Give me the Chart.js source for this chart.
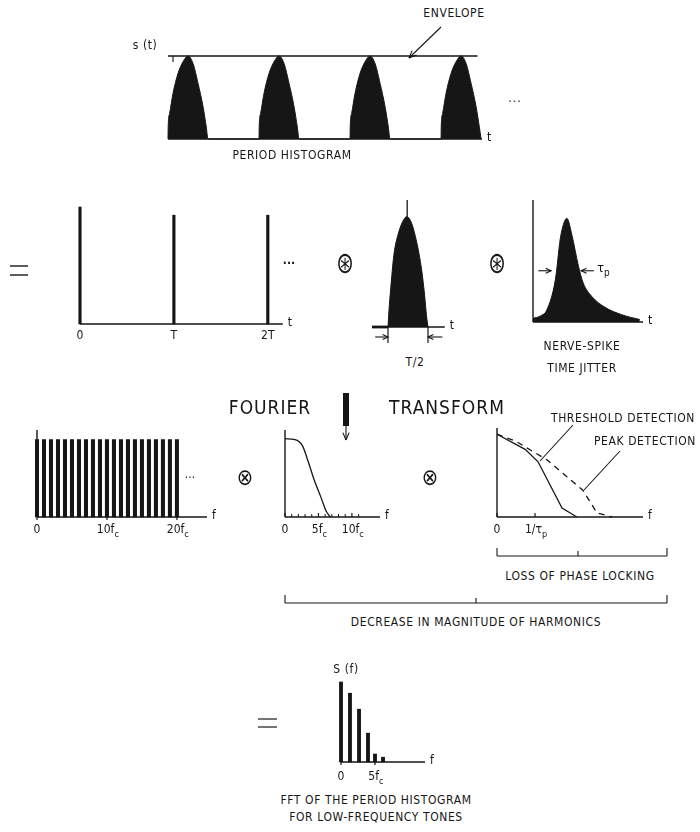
<!DOCTYPE html>
<html>
<head>
<meta charset="utf-8">
<script src="https://cdn.jsdelivr.net/npm/chart.js@4.4.1/dist/chart.umd.min.js"></script>
<style>
  html, body { margin: 0; padding: 0; background: #fff; }
  #page { position: relative; width: 700px; height: 832px; overflow: hidden;
          font-family: "DejaVu Sans Condensed", "Liberation Sans Narrow", "DejaVu Sans", sans-serif; color: #161616; }
  .lbl { position: absolute; white-space: nowrap; transform: translate(-50%, -50%); font-size: 12px; letter-spacing: 0.6px; line-height: 1; }
  .panel { position: absolute; }
  #ink { position: absolute; left: 0; top: 0; }
</style>
</head>
<body>
<div id="page"><svg id="ink" width="700" height="832"></svg></div>
<script>
// ---- data ----
// period histogram: one bump per period (t in periods, height relative to envelope)
const periodStarts = [0, 1, 2, 3];
const histShapeT = [0, 0.002, 0.018, 0.055, 0.11, 0.165, 0.22, 0.275, 0.33, 0.385, 0.42, 0.44];
const histShapeV = [0, 0.15, 0.31, 0.55, 0.79, 0.93, 1.0, 0.91, 0.67, 0.39, 0.15, 0];
const envelopeT = [0, 3.4];
const envelopeV = [1, 1];

// impulse train
const combT = [0, 1, 2];
const combV = [1.0, 0.93, 0.93];
const combTicks = [0, 1, 2];
const combTickLabels = ["0", "T", "2T"];

// single T/2 pulse
const pulseT = [0, 0.012, 0.033, 0.073, 0.135, 0.195, 0.235, 0.295, 0.358, 0.42, 0.46, 0.48, 0.5];
const pulseV = [0, 0.15, 0.34, 0.65, 0.86, 0.97, 1.0, 0.94, 0.77, 0.52, 0.27, 0.11, 0];
const pulseStemT = [0.24, 0.24];
const pulseStemV = [1.0, 1.15];

// nerve-spike time jitter
const jitterT = [0, 0.07, 0.13, 0.21, 0.255, 0.285, 0.317, 0.365, 0.425, 0.47, 0.55, 0.675, 0.83, 1.0];
const jitterV = [0.03, 0.05, 0.1, 0.35, 0.68, 0.8, 0.85, 0.71, 0.46, 0.32, 0.21, 0.12, 0.06, 0.02];

// line spectrum of the impulse train (f in units of fc)
const harmonics = [0, 1, 2, 3, 4, 5, 6, 7, 8, 9, 10, 11, 12, 13, 14, 15, 16, 17, 18, 19, 20];
const harmonicV = [0.89, 0.89, 0.89, 0.89, 0.89, 0.89, 0.89, 0.89, 0.89, 0.89, 0.89,
                   0.89, 0.89, 0.89, 0.89, 0.89, 0.89, 0.89, 0.89, 0.89, 0.89];
const lineTicks = [0, 10, 20];
const lineTickLabels = ["0", "10f_c", "20f_c"];

// spectrum of the pulse
const pulseSpecF = [0, 1.5, 2.6, 3.5, 4.3, 5.4, 6.2, 6.8];
const pulseSpecV = [0.9, 0.89, 0.82, 0.63, 0.44, 0.22, 0.06, 0];
const pulseSpecTicks = [0, 5, 10];
const pulseSpecTickLabels = ["0", "5f_c", "10f_c"];
const pulseSpecMinor = [1, 2, 3, 4, 6, 7, 8, 9, 11];

// loss of phase locking (f in units of 1/tau_p)
const thresholdF = [0, 0.74, 1.08, 1.71, 2.1];
const thresholdV = [0.93, 0.76, 0.62, 0.10, 0];
const peakF = [0, 0.5, 1.32, 2.26, 2.63, 3.03];
const peakV = [0.93, 0.85, 0.64, 0.30, 0.045, 0];
const lockTicks = [0, 1];
const lockTickLabels = ["0", "1/\u03c4_p"];

// FFT of the period histogram
const specF = [0, 1.32, 2.65, 3.97, 5.0, 6.18];
const specV = [1.0, 0.86, 0.66, 0.36, 0.1, 0.06];
const specTicks = [0, 5];
const specTickLabels = ["0", "5f_c"];

// ---- drawing ----
const INK = "#161616";
const FONT = '"DejaVu Sans Condensed", "Liberation Sans Narrow", "DejaVu Sans", sans-serif';
const PAD = 26;
const page = document.getElementById("page");

const pts = (xs, ys) => xs.map((x, i) => ({ x, y: ys[i] }));

function seg(ctx, x1, y1, x2, y2, w) {
  ctx.lineWidth = w;
  ctx.beginPath(); ctx.moveTo(x1, y1); ctx.lineTo(x2, y2); ctx.stroke();
}

function arrowHead(ctx, x1, y1, x2, y2, len) {
  const a = Math.atan2(y2 - y1, x2 - x1);
  ctx.beginPath();
  ctx.moveTo(x2 - len * Math.cos(a - 0.45), y2 - len * Math.sin(a - 0.45));
  ctx.lineTo(x2, y2);
  ctx.lineTo(x2 - len * Math.cos(a + 0.45), y2 - len * Math.sin(a + 0.45));
  ctx.stroke();
}

function subText(ctx, str, x, y, size, align) {
  const [main, sub] = str.split("_");
  ctx.font = size + "px " + FONT;
  const wm = ctx.measureText(main).width;
  ctx.font = Math.round(size * 0.75) + "px " + FONT;
  const ws = sub ? ctx.measureText(sub).width : 0;
  const x0 = align === "left" ? x : x - (sub ? wm / 2 + ws * 0.3 : wm / 2);
  ctx.textBaseline = "middle";
  ctx.textAlign = "left";
  ctx.font = size + "px " + FONT;
  ctx.fillText(main, x0, y);
  if (sub) {
    ctx.font = Math.round(size * 0.75) + "px " + FONT;
    ctx.fillText(sub, x0 + wm, y + size * 0.38);
  }
}

const axesPlugin = {
  id: "axes",
  afterDatasetsDraw(chart, args, o) {
    const { ctx } = chart;
    const xs = chart.scales.x, ys = chart.scales.y;
    const px = v => xs.getPixelForValue(v), py = v => ys.getPixelForValue(v);
    const y0 = py(0);
    ctx.save();
    ctx.strokeStyle = INK; ctx.fillStyle = INK;
    seg(ctx, px(o.xFrom), y0, px(o.xTo), y0, 1.3);
    if (o.thickTo != null) seg(ctx, px(o.xFrom), y0, px(o.thickTo), y0, 2.8);
    if (o.yTop != null) seg(ctx, px(0), y0, px(0), py(o.yTop), 1.4);
    (o.minor || []).forEach(v => seg(ctx, px(v), y0, px(v), y0 - 3, 1));
    (o.ticks || []).forEach(v => seg(ctx, px(v), y0 + (o.tickDown || 0), px(v), y0 - (o.tickUp || 0), 1.2));
    (o.labels || []).forEach((s, i) => subText(ctx, s, px(o.ticks[i]), y0 + (o.labelGap || 12), 12));
    if (o.name) subText(ctx, o.name, px(o.xTo) + 5, y0 - 1, 12, "left");
    (o.bars || []).forEach(b => seg(ctx, px(b.x), y0 + b.y1, px(b.x), y0 + b.y2, 1.2));
    (o.arrows || []).forEach(a => {
      const yy = a.dy != null ? y0 + a.dy : py(a.y);
      seg(ctx, px(a.x1), yy, px(a.x2), yy, 1.1);
      ctx.lineWidth = 1.1;
      arrowHead(ctx, px(a.x1), yy, px(a.x2), yy, 6);
    });
    (o.texts || []).forEach(t => subText(ctx, t.s, px(t.x), py(t.y), 13, "left"));
    ctx.restore();
  }
};

function panel(area, datasets, axes) {
  const div = document.createElement("div");
  div.className = "panel";
  div.style.left = (area.l - PAD) + "px";
  div.style.top = (area.t - PAD) + "px";
  const cv = document.createElement("canvas");
  cv.width = area.w + 2 * PAD;
  cv.height = area.h + 2 * PAD;
  cv.style.width = cv.width + "px";
  cv.style.height = cv.height + "px";
  div.appendChild(cv);
  page.appendChild(div);
  return new Chart(cv, {
    type: "line",
    data: { datasets },
    options: {
      responsive: false,
      animation: false,
      events: [],
      layout: { padding: PAD },
      plugins: { legend: { display: false }, tooltip: { enabled: false }, axes },
      scales: {
        x: { type: "linear", display: false, offset: false, min: area.x[0], max: area.x[1] },
        y: { type: "linear", display: false, min: area.y[0], max: area.y[1] }
      }
    },
    plugins: [axesPlugin]
  });
}

const lineDs = (data, extra) => Object.assign({
  type: "line", data, borderColor: INK, borderWidth: 1.3, pointRadius: 0, fill: false, tension: 0, clip: false
}, extra || {});
const fillDs = data => lineDs(data, { fill: "origin", backgroundColor: INK, borderWidth: 1, cubicInterpolationMode: "monotone" });
const barDs = (data, thick) => ({
  type: "bar", data, backgroundColor: INK, borderWidth: 0, barThickness: thick, clip: false
});

// chart areas on the page
const AREA = {
  hist:   { l: 168, t: 56,  w: 314, h: 83,  x: [0, 3.45],       y: [0, 1] },
  comb:   { l: 80,  t: 207, w: 200, h: 117, x: [0, 2.13],       y: [0, 1] },
  pulse:  { l: 372, t: 200, w: 73,  h: 127, x: [-0.2, 0.7125],  y: [0, 1.15] },
  jitter: { l: 533, t: 200, w: 110, h: 122, x: [0, 1.03],       y: [0, 1] },
  lines:  { l: 37,  t: 430, w: 170, h: 87,  x: [0, 24.3],       y: [0, 1] },
  env:    { l: 285, t: 430, w: 95,  h: 87,  x: [0, 14.2],       y: [0, 1] },
  lock:   { l: 497, t: 428, w: 146, h: 89,  x: [0, 3.84],       y: [0, 1] },
  spec:   { l: 341, t: 682, w: 84,  h: 80,  x: [0, 12.35],      y: [0, 1] }
};

const histData = periodStarts.flatMap(p => histShapeT.map((t, i) => ({ x: p + t, y: histShapeV[i] })));

panel(AREA.hist, [fillDs(histData), lineDs(pts(envelopeT, envelopeV))],
  { xFrom: 0, xTo: 3.45, name: "t" });

panel(AREA.comb, [barDs(pts(combT, combV), 2.5)],
  { xFrom: 0, xTo: 2.16, name: "t", ticks: combTicks, labels: combTickLabels, labelGap: 12 });

panel(AREA.pulse, [fillDs(pts(pulseT, pulseV)), lineDs(pts(pulseStemT, pulseStemV))],
  { xFrom: -0.2, xTo: 0.71, thickTo: 0, name: "t",
    bars: [{ x: 0, y1: 0, y2: 16 }, { x: 0.5, y1: 0, y2: 16 }],
    arrows: [{ x1: -0.16, x2: 0, dy: 10 }, { x1: 0.68, x2: 0.5, dy: 10 }] });

panel(AREA.jitter, [fillDs(pts(jitterT, jitterV))],
  { xFrom: 0, xTo: 1.03, yTop: 1, name: "t",
    arrows: [{ x1: 0.05, x2: 0.17, y: 0.42 }, { x1: 0.57, x2: 0.45, y: 0.42 }],
    texts: [{ x: 0.6, y: 0.44, s: "\u03c4_p" }] });

panel(AREA.lines, [barDs(pts(harmonics, harmonicV), 3.4)],
  { xFrom: 0, xTo: 24.3, yTop: 1, name: "f", ticks: lineTicks, labels: lineTickLabels, tickDown: 3, labelGap: 13 });

panel(AREA.env, [lineDs(pts(pulseSpecF, pulseSpecV), { tension: 0.35, cubicInterpolationMode: "monotone" })],
  { xFrom: 0, xTo: 14.2, yTop: 1, name: "f", ticks: pulseSpecTicks, labels: pulseSpecTickLabels,
    tickUp: 4, minor: pulseSpecMinor, labelGap: 13 });

panel(AREA.lock, [lineDs(pts(thresholdF, thresholdV)), lineDs(pts(peakF, peakV), { borderDash: [6, 5] })],
  { xFrom: 0, xTo: 3.84, yTop: 1, name: "f", ticks: lockTicks, labels: lockTickLabels, tickUp: 4, labelGap: 13 });

panel(AREA.spec, [barDs(pts(specF, specV), 3.2)],
  { xFrom: 0, xTo: 12.35, name: "f", ticks: specTicks, labels: specTickLabels, tickUp: 3, tickDown: 3, labelGap: 15 });

// ---- text ----
function lbl(text, cx, cy, size, extra) {
  const d = document.createElement("div");
  d.className = "lbl";
  d.textContent = text;
  d.style.left = cx + "px";
  d.style.top = cy + "px";
  if (size) d.style.fontSize = size + "px";
  if (extra) Object.assign(d.style, extra);
  page.appendChild(d);
}
const narrow = { transform: "translate(-50%, -50%) scaleX(0.7)", letterSpacing: "0px", fontFamily: '"DejaVu Sans", sans-serif' };
const roundish = { transform: "translate(-50%, -50%) scaleX(0.85)", letterSpacing: "0px", fontFamily: '"DejaVu Sans", sans-serif' };
lbl("ENVELOPE", 454, 13);
lbl("s (t)", 145, 45);
lbl("...", 515, 98, 12, { letterSpacing: "1px" });
lbl("PERIOD HISTOGRAM", 292, 155);
lbl("...", 289, 260, 12, { letterSpacing: "0px", fontWeight: "bold" });
lbl("\u229b", 345, 263, 30, narrow);
lbl("\u229b", 497, 263, 30, narrow);
lbl("T/2", 415, 362);
lbl("NERVE-SPIKE", 582, 346);
lbl("TIME JITTER", 582, 368);
lbl("FOURIER", 270, 407, 19, { letterSpacing: "1px" });
lbl("TRANSFORM", 447, 407, 19, { letterSpacing: "1px" });
lbl("...", 190, 474, 12, { letterSpacing: "0px" });
lbl("\u2297", 245, 477, 23, roundish);
lbl("\u2297", 430, 477, 23, roundish);
lbl("THRESHOLD DETECTION", 623, 418);
lbl("PEAK DETECTION", 645, 441);
lbl("LOSS OF PHASE LOCKING", 580, 576);
lbl("DECREASE IN MAGNITUDE OF HARMONICS", 476, 622);
lbl("S (f)", 346, 669);
lbl("FFT OF THE PERIOD HISTOGRAM", 376, 800);
lbl("FOR LOW-FREQUENCY TONES", 376, 817);

// ---- pointers, brackets, arrow ----
const svg = document.getElementById("ink");
function sl(x1, y1, x2, y2, w) {
  const l = document.createElementNS("http://www.w3.org/2000/svg", "line");
  l.setAttribute("x1", x1); l.setAttribute("y1", y1);
  l.setAttribute("x2", x2); l.setAttribute("y2", y2);
  l.setAttribute("stroke", INK); l.setAttribute("stroke-width", w || 1.1);
  svg.appendChild(l);
}
function sArrow(x1, y1, x2, y2) {
  sl(x1, y1, x2, y2);
  const a = Math.atan2(y2 - y1, x2 - x1), len = 8;
  sl(x2, y2, x2 - len * Math.cos(a - 0.4), y2 - len * Math.sin(a - 0.4));
  sl(x2, y2, x2 - len * Math.cos(a + 0.4), y2 - len * Math.sin(a + 0.4));
}
sArrow(441, 27, 409, 58);
sl(173, 56, 173, 62);
// equals signs
sl(10, 266, 28, 266, 1.4); sl(10, 275, 28, 275, 1.4);
sl(258, 719, 277, 719, 1.2); sl(258, 727, 277, 727, 1.2);
// Fourier arrow
sl(346, 393, 346, 426, 6);
sArrow(346, 424, 346, 440);
// detection pointers
sl(573, 425, 540, 461);
sl(620, 451, 584, 490);
// brackets
sl(497, 548, 497, 556); sl(497, 556, 667, 556); sl(667, 556, 667, 548); sl(578, 556, 578, 551);
sl(285, 595, 285, 603); sl(285, 603, 667, 603); sl(667, 603, 667, 595); sl(476, 603, 476, 598);
</script>
</body>
</html>
